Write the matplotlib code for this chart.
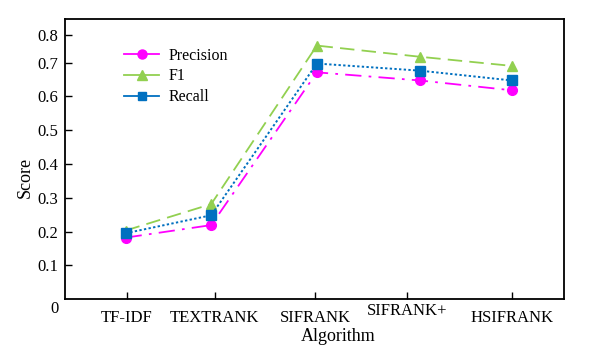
import matplotlib
matplotlib.use("Agg")
import matplotlib.pyplot as plt
import matplotlib.transforms as mtransforms
from matplotlib.lines import Line2D

# data
algorithms = ["TF-IDF", "TEXTRANK", "SIFRANK", "SIFRANK+", "HSIFRANK"]
precision = [0.182, 0.219, 0.670, 0.646, 0.617]
f1 = [0.203, 0.281, 0.749, 0.716, 0.689]
recall = [0.195, 0.248, 0.696, 0.675, 0.646]

# the original chart is not evenly spaced
point_x = [0.0, 0.886, 1.98, 3.047, 4.0]
tick_x = [0.01, 0.925, 1.96, 2.91, 4.0]
ytick_vals = [0.1, 0.2, 0.3, 0.4, 0.5, 0.6, 0.698, 0.78]
ytick_labels = ["0.1", "0.2", "0.3", "0.4", "0.5", "0.6", "0.7", "0.8"]

plt.rcParams["font.family"] = ["Liberation Serif", "DejaVu Serif"]

fig = plt.figure(figsize=(5.91, 3.55), dpi=100)
ax = fig.add_axes([0.110, 0.157, 0.844, 0.789])

c_p = "#FF00FF"
c_f = "#92D050"
c_r = "#0070C0"

ax.plot(point_x, precision, color=c_p, lw=1.3, linestyle=(0, (9, 4, 1.5, 4)),
        marker="o", ms=7)
ax.plot(point_x, f1, color=c_f, lw=1.3, linestyle=(0, (8, 4)),
        marker="^", ms=7)
ax.plot(point_x, recall, color=c_r, lw=1.4, linestyle=(0, (1.2, 1.2)),
        marker="s", ms=6.5)

ax.set_xlim(-0.628, 4.537)
ax.set_ylim(0, 0.827)

ax.set_yticks(ytick_vals)
ax.set_yticklabels(ytick_labels, fontsize=12)
ax.set_xticks(tick_x)
ax.set_xticklabels(algorithms, fontsize=12)
ax.tick_params(direction="in", length=5, width=1, top=False, right=False, pad=5)
ax.tick_params(axis="x", pad=8)

# SIFRANK+ label sits a little higher in the original
lbl = ax.get_xticklabels()[3]
lbl.set_transform(lbl.get_transform() + mtransforms.ScaledTranslation(0, 5 / 72, fig.dpi_scale_trans))

ax.text(-0.013, -0.006, "0", transform=mtransforms.blended_transform_factory(ax.transAxes, ax.transData),
        ha="right", va="top", fontsize=12)

for s in ax.spines.values():
    s.set_linewidth(1.3)

fig.text(0.042, 0.50, "Score", rotation=90, ha="center", va="center", fontsize=13)
fig.text(0.572, 0.053, "Algorithm", ha="center", va="center", fontsize=13)

handles = [
    Line2D([], [], color=c_p, lw=1.3, marker="o", ms=6.5),
    Line2D([], [], color=c_f, lw=1.3, marker="^", ms=6.5),
    Line2D([], [], color=c_r, lw=1.3, marker="s", ms=6),
]
ax.legend(handles, ["Precision", "F1", "Recall"], loc="upper left",
          bbox_to_anchor=(0.09, 0.95), frameon=False, fontsize=11.5,
          handlelength=2.2, labelspacing=0.3, handletextpad=0.6)

fig.savefig("out.png", dpi=100)
